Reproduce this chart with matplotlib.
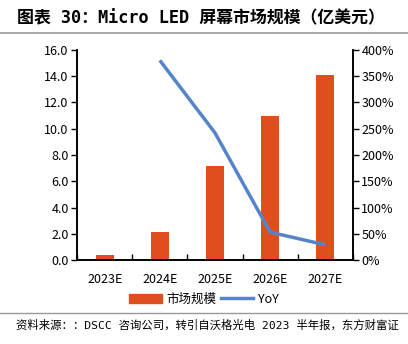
import matplotlib.pyplot as plt
from matplotlib.lines import Line2D
from matplotlib.ticker import FuncFormatter

plt.rcParams['font.family'] = ['Noto Sans CJK SC', 'DejaVu Sans']

years = ["2023E", "2024E", "2025E", "2026E", "2027E"]
market_size = [0.42, 2.13, 7.15, 10.95, 14.05]
yoy_years = ["2024E", "2025E", "2026E", "2027E"]
yoy = [3.80, 2.42, 0.53, 0.29]

bar_color = "#E04E1F"
line_color = "#5585C8"
mono_cjk = ['DejaVu Sans Mono', 'Noto Sans CJK SC']

fig = plt.figure(figsize=(4.08, 3.44), dpi=100)
ax = fig.add_axes([0.189, 0.244, 0.676, 0.611])
ax2 = ax.twinx()

x = list(range(len(years)))
ax.bar(x, market_size, width=0.33, color=bar_color, zorder=2)
xi = [years.index(y) for y in yoy_years]
ax2.plot(xi, yoy, color=line_color, lw=2.5, solid_capstyle="butt")

ax.set_xlim(-0.5, len(years) - 0.5)
ax.set_ylim(0, 16)
ax.set_yticks([i * 2 for i in range(9)])
ax.yaxis.set_major_formatter(FuncFormatter(lambda v, p: f"{v:.1f}"))
ax2.set_ylim(0, 4)
ax2.set_yticks([i * 0.5 for i in range(9)])
ax2.yaxis.set_major_formatter(FuncFormatter(lambda v, p: f"{v*100:.0f}%"))

ax.set_xticks(x)
ax.set_xticklabels(years)
ax.set_xticks([i + 0.5 for i in range(-1, len(years))], minor=True)
ax.tick_params(axis="x", which="major", length=0, pad=9, labelsize=9)
ax.tick_params(axis="x", which="minor", direction="in", length=4, width=1)
ax.tick_params(axis="y", length=4, width=1, labelsize=9, pad=2)
ax2.tick_params(axis="y", length=4, width=1, labelsize=9, pad=2)

for a in (ax, ax2):
    a.spines["top"].set_visible(False)
    for s in ("left", "right", "bottom"):
        a.spines[s].set_linewidth(1.2)

handles = [
    plt.Rectangle((0, 0), 1, 1, color=bar_color),
    Line2D([0], [0], color=line_color, lw=2.5),
]
fig.legend(handles, ["市场规模", "YoY"], loc="center", bbox_to_anchor=(0.5, 0.13),
           ncol=2, frameon=False, fontsize=9, handlelength=2.6, columnspacing=0.3,
           handletextpad=0.4)

fig.text(0.042, 0.948, "图表 30：Micro LED 屏幕市场规模（亿美元）", fontsize=12.2,
         fontweight="bold", va="center", ha="left", family=mono_cjk)
fig.add_artist(Line2D([0.0, 1.0], [0.904, 0.904], color="#999999", lw=1.2))
fig.add_artist(Line2D([0.0, 1.0], [0.09, 0.09], color="#999999", lw=1.0))
fig.text(0.04, 0.055, "资料来源：：DSCC 咨询公司，转引自沃格光电 2023 半年报，东方财富证",
         fontsize=8.2, va="center", ha="left", family=mono_cjk)

fig.savefig("out.png", dpi=100)
